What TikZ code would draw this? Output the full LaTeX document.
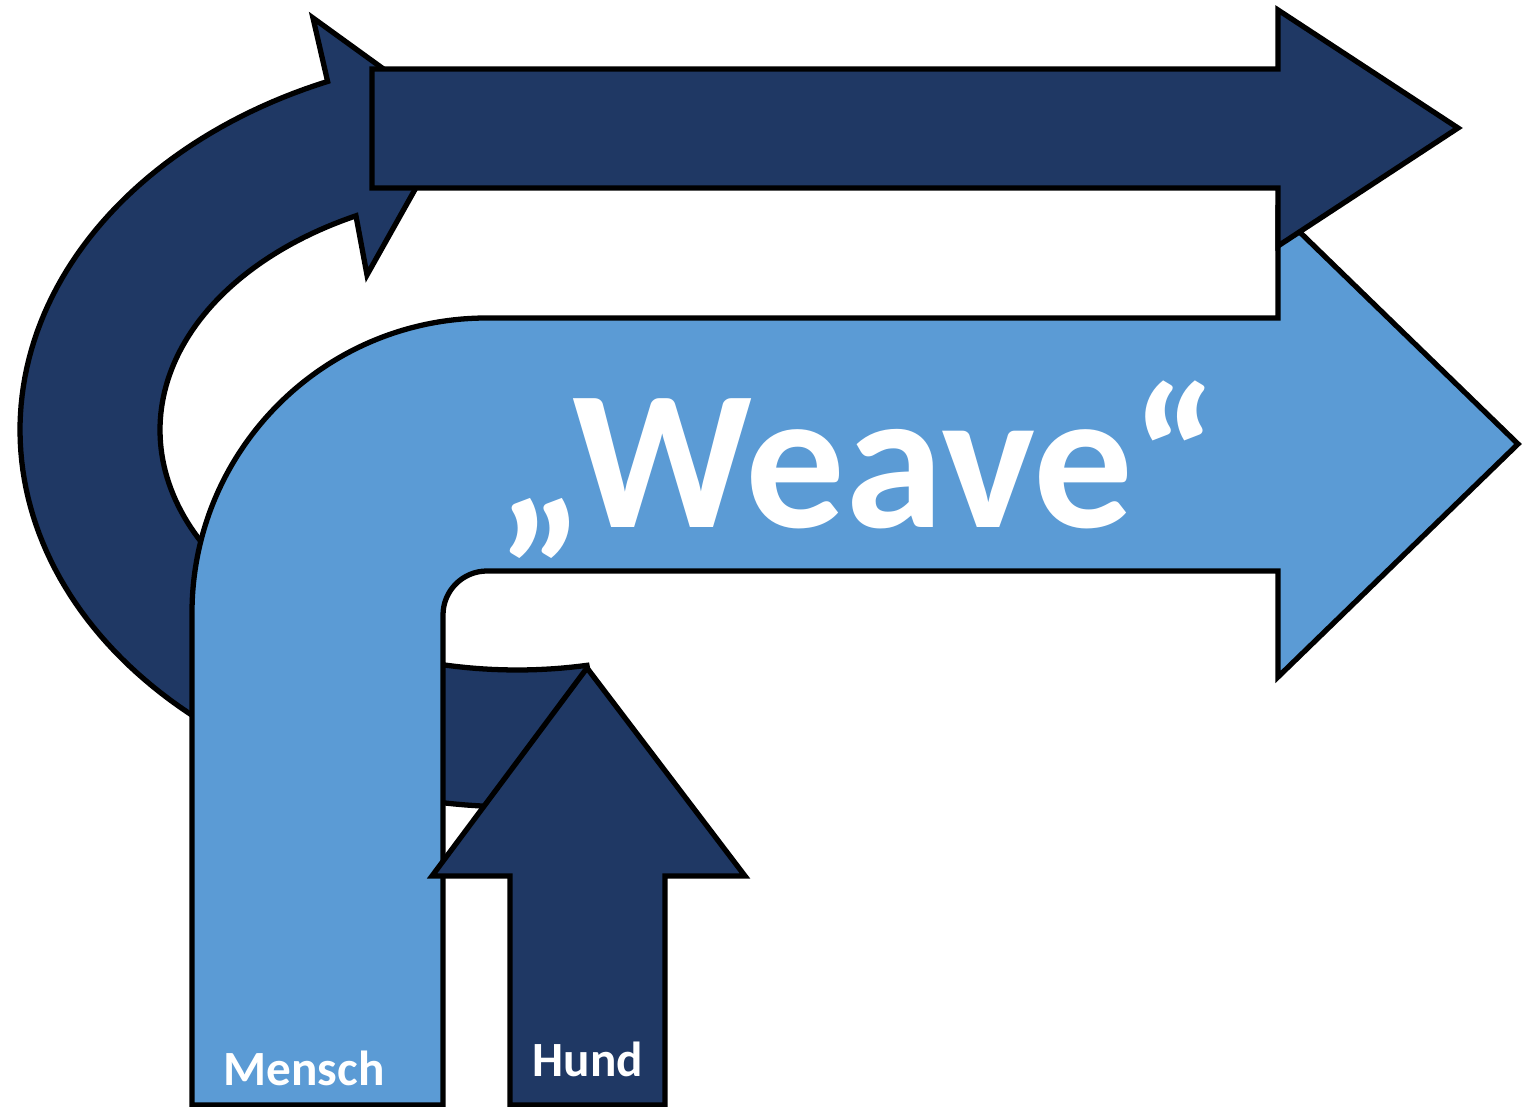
\documentclass[tikz,border=0pt]{standalone}
\usepackage{fontspec}
\setmainfont{Carlito}
\definecolor{navy}{RGB}{31,56,100}
\definecolor{skyblue}{RGB}{91,155,213}
\begin{document}
\begin{tikzpicture}[x=0.01cm,y=-0.01cm,
  outlined/.style={draw=black,line width=1.5pt,line join=miter},
  darkshape/.style={outlined,fill=navy},
  lightshape/.style={outlined,fill=skyblue},
  lbl/.style={text=white,font=\bfseries,anchor=base,inner sep=0pt}]
\useasboundingbox (0,0) rectangle (1533,1107);
% curved arrow (bottom layer)
\path[darkshape]
  plot[domain=0:1,samples=120,variable=\t] ({517+497*cos(247.6-168.9*\t)},{430+377*sin(247.6-168.9*\t)})
  -- plot[domain=0:1,samples=120,variable=\t] ({517+357*cos(78.7+164.7*\t)},{430+240*sin(78.7+164.7*\t)})
  -- (367,275) -- (454,120) -- (313,18) -- cycle;
% light bent arrow
\path[lightshape] (192,1105) -- (192,613) .. controls (192,450.1) and (324.1,318) .. (487,318)
  -- (1278,318) -- (1278,211) -- (1518,444) -- (1278,677) -- (1278,571) -- (487,571)
  .. controls (462.7,571) and (443,590.7) .. (443,615) -- (443,1105) -- cycle;
% dark straight arrow
\path[darkshape] (372,69) -- (1278,69) -- (1278,10) -- (1458,128) -- (1278,246) -- (1278,188) -- (372,188) -- cycle;
% Hund arrow
\path[darkshape] (510,1105) -- (510,876) -- (432,876) -- (587,668) -- (745,876) -- (665,876) -- (665,1105) -- cycle;
% labels
\node[lbl,font=\bfseries\fontsize{56.5}{60}\selectfont] (weave) at (858,528) {„Weave“};
\node[lbl,font=\bfseries\fontsize{14}{17}\selectfont] (mensch) at (304,1086) {Mensch};
\node[lbl,font=\bfseries\fontsize{14}{17}\selectfont] (hund) at (588,1077) {Hund};
\end{tikzpicture}
\end{document}
